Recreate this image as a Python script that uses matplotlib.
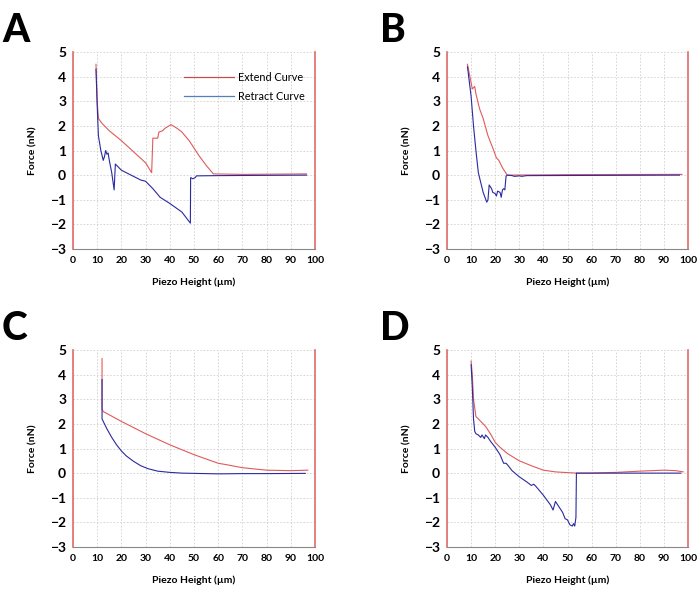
import matplotlib
matplotlib.use('Agg')
import matplotlib.pyplot as plt
from matplotlib.lines import Line2D

plt.rcParams['font.family'] = ['Lato', 'DejaVu Sans']

# Panel A
a_ext_x = [9.5, 10.0, 10.5, 12, 15, 20, 25, 30, 32.5, 33, 35, 35.5, 37, 38, 40.5, 43, 45, 48, 52, 55, 58, 70, 96.5]
a_ext_y = [4.5, 3.0, 2.3, 2.1, 1.8, 1.4, 0.95, 0.5, 0.1, 1.5, 1.5, 1.75, 1.8, 1.9, 2.05, 1.9, 1.75, 1.4, 0.8, 0.4, 0.05, 0.03, 0.05]
a_ret_x = [9.5, 10, 10.5, 11, 11.5, 12, 12.5, 13, 13.5, 14, 14.5, 15, 16, 17, 17.5, 20, 25, 28, 30, 33, 36, 40, 45, 48.5,
           48.6, 49.5, 50.5, 51, 60, 96.5]
a_ret_y = [4.3, 2.8, 1.6, 1.3, 1.0, 0.8, 0.6, 0.75, 1.0, 0.85, 0.9, 0.6, 0.1, -0.6, 0.45, 0.2, -0.05, -0.2, -0.25, -0.55,
           -0.9, -1.15, -1.5, -1.95, -0.1, -0.15, -0.1, -0.03, -0.02, 0.0]

# Panel B
b_ext_x = [8.5, 9.5, 10.5, 11.5, 12, 13.5, 15, 17, 19, 20.5, 21.5, 23, 25, 50, 97.5]
b_ext_y = [4.5, 4.0, 3.5, 3.6, 3.3, 2.7, 2.3, 1.6, 1.1, 0.7, 0.6, 0.3, 0.0, 0.02, 0.03]
b_ret_x = [8.5, 10, 11, 12, 13, 14, 15, 16.5, 17, 17.5, 18.5, 19, 20, 20.5, 21, 22, 22.5, 23, 23.5, 24, 24.5, 25, 27, 28,
           30, 31, 33, 96.5]
b_ret_y = [4.4, 3.2, 2.0, 1.0, 0.1, -0.3, -0.7, -1.1, -1.0, -0.4, -0.55, -0.7, -0.75, -0.85, -0.65, -0.7, -0.9, -0.6,
           -0.55, -0.6, -0.05, 0.0, -0.02, -0.05, -0.03, -0.05, -0.02, 0.0]

# Panel C
c_ext_x = [12, 12, 12.5, 20, 30, 40, 50, 60, 63, 70, 80, 90, 97]
c_ext_y = [4.65, 2.6, 2.5, 2.1, 1.6, 1.15, 0.75, 0.4, 0.35, 0.22, 0.12, 0.1, 0.12]
c_ret_x = [12, 12, 12.5, 14, 16, 18, 20, 22, 25, 28, 31, 35, 40, 45, 50, 60, 70, 80, 96]
c_ret_y = [3.8, 2.2, 2.1, 1.8, 1.45, 1.15, 0.9, 0.7, 0.48, 0.3, 0.18, 0.08, 0.03, 0.0, -0.01, -0.03, -0.02, -0.02, -0.01]

# Panel D
d_ext_x = [10, 10.5, 11, 12, 14, 16, 18, 20, 22, 25, 30, 35, 40, 45, 50, 54, 60, 70, 80, 90, 95, 98]
d_ext_y = [4.55, 4.0, 3.0, 2.3, 2.1, 1.9, 1.6, 1.25, 1.05, 0.8, 0.5, 0.3, 0.12, 0.05, 0.02, 0.0, 0.0, 0.03, 0.08, 0.12,
           0.1, 0.05]
d_ret_x = [10, 10.5, 11, 11.5, 12, 13, 14, 14.5, 15.5, 16, 17, 18, 20, 22, 23.5, 24.5, 25, 27, 30, 33, 35, 36, 37, 40,
           43, 44, 45, 46, 47, 48, 49, 50, 51, 52, 52.5, 53, 53.5, 53.7, 60, 97]
d_ret_y = [4.4, 3.5, 2.2, 1.7, 1.6, 1.55, 1.45, 1.55, 1.4, 1.55, 1.45, 1.3, 1.05, 0.75, 0.4, 0.4, 0.35, 0.1, -0.15,
           -0.35, -0.5, -0.45, -0.55, -0.9, -1.3, -1.5, -1.15, -1.3, -1.45, -1.6, -1.85, -1.9, -2.1, -2.15, -2.05,
           -2.15, -1.8, 0.0, 0.0, 0.0]

panels = [
    ('A', a_ext_x, a_ext_y, a_ret_x, a_ret_y),
    ('B', b_ext_x, b_ext_y, b_ret_x, b_ret_y),
    ('C', c_ext_x, c_ext_y, c_ret_x, c_ret_y),
    ('D', d_ext_x, d_ext_y, d_ret_x, d_ret_y),
]

W, H = 698, 596
# axes boxes in pixels: left, top, right, bottom
boxes = [(73, 52, 315, 249), (447, 52, 688, 249), (73, 350, 315, 547), (447, 350, 688, 547)]
letters_pos = [(2, 42), (380, 42), (2, 340), (380, 340)]

ext_color = '#e05a5a'
ret_color = '#2a2aa0'
spine_red = '#e06a6a'

fig = plt.figure(figsize=(W / 100, H / 100), dpi=100)

for (name, ex, ey, rx, ry), (l, t, r, b), (lx, ly) in zip(panels, boxes, letters_pos):
    ax = fig.add_axes([l / W, 1 - b / H, (r - l) / W, (b - t) / H])
    ax.plot(ex, ey, color=ext_color, lw=0.8)
    ax.plot(rx, ry, color=ret_color, lw=0.8)
    ax.set_xlim(0, 100)
    ax.set_ylim(-3, 5)
    ax.set_xticks(range(0, 101, 10))
    ax.set_yticks(range(-3, 6))
    ax.grid(True, color='#d0d0d0', linestyle=(0, (2, 2)), lw=0.6)
    ax.set_axisbelow(True)
    ax.tick_params(length=0, pad=5)
    for lab in ax.get_xticklabels():
        lab.set_fontsize(7.5)
        lab.set_fontweight('bold')
    for lab in ax.get_yticklabels():
        lab.set_fontsize(10)
        lab.set_fontweight('bold')
    ax.spines['top'].set_visible(False)
    ax.spines['left'].set_color(spine_red)
    ax.spines['right'].set_color(spine_red)
    ax.spines['left'].set_linewidth(1.2)
    ax.spines['right'].set_linewidth(1.2)
    ax.spines['bottom'].set_color('#888888')
    ax.spines['bottom'].set_linewidth(0.8)
    ax.set_xlabel('Piezo Height (µm)', fontsize=7.5, fontweight='bold', labelpad=9)
    ax.set_ylabel('Force (nN)', fontsize=7.5, fontweight='bold', labelpad=9)
    fig.text(lx / W, 1 - ly / H, name, fontsize=28, fontweight='black', ha='left', va='baseline')
    if name == 'A':
        handles = [Line2D([], [], color='#c0504d', lw=0.9), Line2D([], [], color='#4f81bd', lw=0.9)]
        ax.legend(handles, ['Extend Curve', 'Retract Curve'], loc='upper right', frameon=False,
                  fontsize=7.8, handlelength=4.6, handletextpad=0.4, labelspacing=0.75,
                  bbox_to_anchor=(1.0, 0.95))

fig.savefig('out.png', dpi=100)
